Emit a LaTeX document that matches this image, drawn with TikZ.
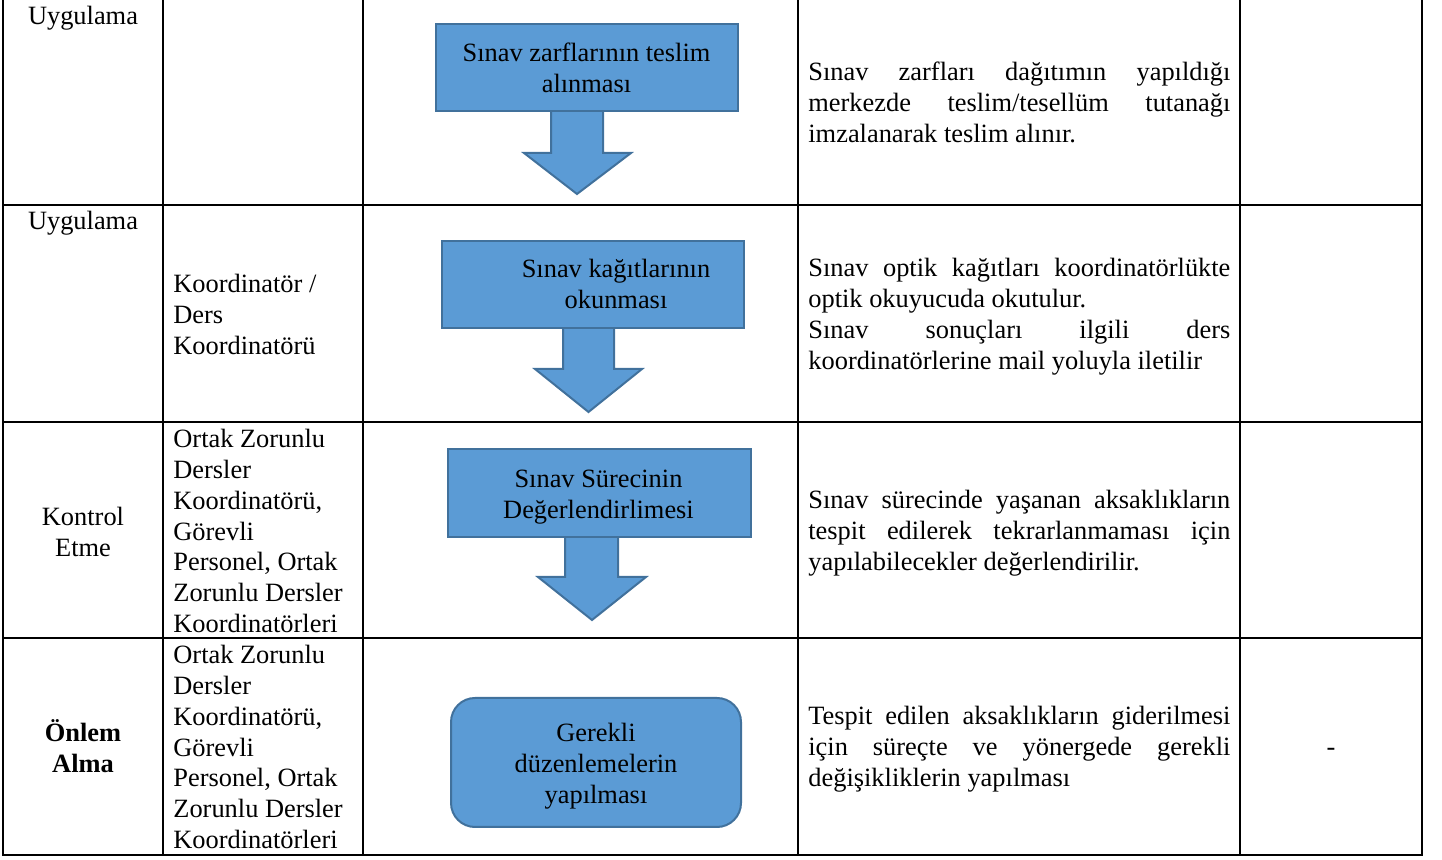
\documentclass[tikz,border=0pt]{standalone}
\usepackage{fontspec}
\setmainfont{Liberation Serif}
\definecolor{boxfill}{RGB}{91,155,213}
\definecolor{boxedge}{RGB}{65,113,156}
\newcommand{\jline}[1]{\makebox[211pt][s]{\spaceskip=0pt\xspaceskip=0pt #1}}

\begin{document}
\begin{tikzpicture}[x=0.5pt, y=-0.5pt,
    grid/.style={line width=1.2pt},
    flowbox/.style={draw=boxedge, fill=boxfill, line width=1pt},
    blockarrow/.style={draw=boxedge, fill=boxfill, line width=1pt},
    txt/.style={font=\fontsize{13.2}{15.35}\selectfont, inner sep=0pt,
        execute at begin node={\spaceskip=\fontdimen2\font\xspaceskip=\fontdimen2\font}},
    stage/.style={txt, anchor=base, text width=75pt, align=center},
    owner/.style={txt, anchor=base west, text width=92pt, align=left},
    boxtext/.style={txt, anchor=base, text width=145pt, align=center},
    note/.style={txt, anchor=base west, text width=211pt, align=left}]

    % Page area
    \useasboundingbox (0,0) rectangle (1442,860);

    % Table rules
    \foreach \x in {163,363,798,1240}
        \draw[grid] (\x,-5) -- (\x,855);
    \foreach \y in {205,422,638}
        \draw[grid] (3,\y) -- (1422,\y);
    \draw[grid] (3,-5) -- (3,855) -- (1422,855) -- (1422,-5);

    % Block arrows under the steps
    \draw[blockarrow] (551,109) -- (551,153) -- (524,153) -- (577,194) -- (631,153) -- (603,153) -- (603,109);
    \draw[blockarrow] (563,326) -- (563,369) -- (535,369) -- (588.5,412) -- (642,369) -- (614,369) -- (614,326);
    \draw[blockarrow] (565,535) -- (565,577) -- (538,577) -- (592,620) -- (646,577) -- (618,577) -- (618,535);

    % Steps
    \node[flowbox, minimum width=151pt, minimum height=43.5pt] (zarf) at (586.5,67.5) {};
    \node[flowbox, minimum width=151pt, minimum height=43.5pt] (okuma) at (593,284.5) {};
    \node[flowbox, minimum width=151.5pt, minimum height=44pt] (deger) at (599.5,493) {};
    \node[flowbox, rounded corners=12pt, minimum width=145pt, minimum height=64.5pt] (duzen) at (596,762.5) {};

    \node[boxtext] (zarf-t) at (586.5,62) {Sınav zarflarının teslim\\alınması};
    \node[boxtext] (okuma-t) at (616,278) {Sınav kağıtlarının\\okunması};
    \node[boxtext] (deger-t) at (598.5,488) {Sınav Sürecinin\\Değerlendirlimesi};
    \node[boxtext] (duzen-t) at (596,742) {Gerekli\\düzenlemelerin\\yapılması};

    % First column
    \node[stage] (s1) at (83,25) {Uygulama};
    \node[stage] (s2) at (83,230) {Uygulama};
    \node[stage] (s3) at (83,526) {Kontrol\\Etme};
    \node[stage] (s4) at (83,742) {\textbf{Önlem}\\\textbf{Alma}};

    % Second column
    \node[owner] (o2) at (173,293) {Koordinatör /\\Ders\\Koordinatörü};
    \node[owner] (o3) at (173,448) {Ortak Zorunlu\\Dersler\\Koordinatörü,\\Görevli\\Personel, Ortak\\Zorunlu Dersler\\Koordinatörleri};
    \node[owner] (o4) at (173,664) {Ortak Zorunlu\\Dersler\\Koordinatörü,\\Görevli\\Personel, Ortak\\Zorunlu Dersler\\Koordinatörleri};

    % Fourth column
    \node[note] (n1) at (808,81) {\jline{Sınav zarfları dağıtımın yapıldığı}\\\jline{merkezde teslim/tesellüm tutanağı}\\imzalanarak teslim alınır.};
    \node[note] (n2) at (808,277) {\jline{Sınav optik kağıtları koordinatörlükte}\\optik okuyucuda okutulur.\\\jline{Sınav sonuçları ilgili ders}\\koordinatörlerine mail yoluyla iletilir};
    \node[note] (n3) at (808,509) {\jline{Sınav sürecinde yaşanan aksaklıkların}\\\jline{tespit edilerek tekrarlanmaması için}\\yapılabilecekler değerlendirilir.};
    \node[note] (n4) at (808,725) {\jline{Tespit edilen aksaklıkların giderilmesi}\\\jline{için süreçte ve yönergede gerekli}\\değişikliklerin yapılması};

    % Last column
    \node[txt, anchor=base] (dash) at (1331,756) {-};

\end{tikzpicture}
\end{document}
